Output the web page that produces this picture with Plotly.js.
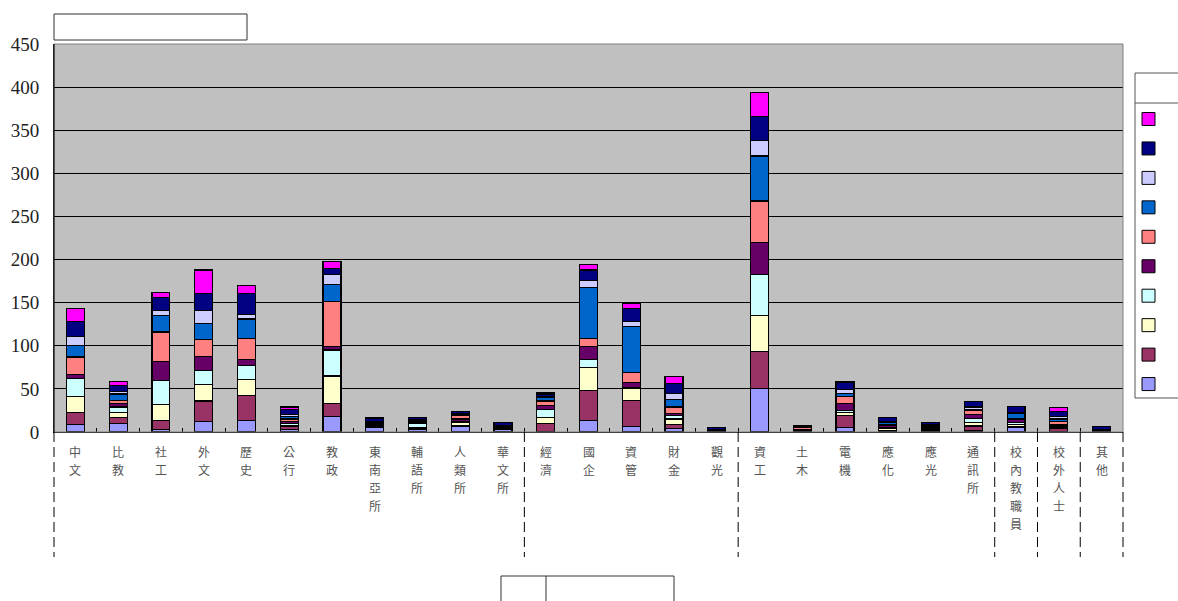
<!DOCTYPE html>
<html>
<head>
<meta charset="utf-8">
<script src="https://cdn.plot.ly/plotly-3.0.1.min.js"></script>
<style>html,body{margin:0;padding:0;background:#fff;}#chart{width:1178px;height:601px;}</style>
</head>
<body>
<div id="chart"></div>
<script>
// Categories (x-axis)
const categories = ['中文','比教','社工','外文','歷史','公行','教政','東南亞所','輔語所','人類所','華文所','經濟','國企','資管','財金','觀光','資工','土木','電機','應化','應光','通訊所','校內教職員','校外人士','其他'];

// Series values (bottom to top in stack)
const series1 = [9,10,3,12,13,3,18,5,3,6,3,0,13,6,4,1,50,1,5,1,2,2,5,1,1];
const series2 = [14,7,10,24,29,3,15,2,1,2,1,10,35,31,5,1,43,1,14,1,1,5,1,3,1];
const series3 = [18,6,19,19,19,1,32,0,1,3,1,7,27,13,6,0,42,0,4,2,1,4,3,1,0];
const series4 = [21,6,28,16,16,3,30,0,5,1,1,9,9,1,4,0,48,0,2,1,1,5,2,2,0];
const series5 = [5,4,22,17,7,2,4,2,1,3,1,5,15,6,2,1,37,1,8,3,1,4,4,2,1];
const series6 = [20,4,34,19,24,3,52,1,1,4,0,5,9,12,8,0,48,2,8,1,2,5,1,3,0];
const series7 = [13,7,19,19,23,3,20,1,1,1,1,4,60,53,9,0,52,0,4,2,0,1,5,3,0];
const series8 = [11,3,6,15,5,2,12,1,1,1,0,1,8,6,7,0,18,0,4,1,1,3,1,3,0];
const series9 = [17,7,15,20,25,6,7,4,3,3,3,3,12,15,11,2,28,2,9,5,2,6,8,6,3];
const series10 = [15,5,6,27,9,3,8,1,0,0,0,2,6,6,8,0,28,0,0,0,0,0,0,4,0];

const seriesNames = ['系列1','系列2','系列3','系列4','系列5','系列6','系列7','系列8','系列9','系列10'];
const seriesColors = ['#9999FF','#993366','#FFFFCC','#CCFFFF','#660066','#FF8080','#0066CC','#CCCCFF','#000080','#FF00FF'];
const allSeries = [series1,series2,series3,series4,series5,series6,series7,series8,series9,series10];

// Y ticks
const yTicks = [0,50,100,150,200,250,300,350,400,450];

// Group boundaries (index of last category in each group)
const groupEnds = [10,15,21,22,23,24];

const traces = allSeries.map((vals, i) => ({
  type: 'bar',
  x: categories,
  y: vals,
  name: seriesNames[i],
  marker: {color: seriesColors[i], line: {color: '#000', width: 1.2}},
  showlegend: false
}));

// Pixel -> paper helpers for decorations (plot area 54..1123 x, 44..432 y)
const PL = 54, PR = 1123, PT = 44, PB = 432;
const px = v => (v - PL) / (PR - PL);
const py = v => (PB - v) / (PB - PT);

// Vertical category labels: one character per line
const annotations = [];
categories.forEach(c => {
  Array.from(c).forEach((ch, k) => {
    annotations.push({
      xref: 'x', yref: 'paper', x: c, y: py(451 + 18 * k),
      text: ch, showarrow: false, xanchor: 'center', yanchor: 'middle',
      font: {family: '"Noto Sans CJK TC", sans-serif', size: 12, color: '#555'}
    });
  });
});

const shapes = [];
shapes.push({type:'rect', xref:'paper', yref:'paper', x0:0, x1:1, y0:0, y1:1, line:{color:'#808080', width:1}, layer:'above'});
shapes.push({type:'line', xref:'paper', yref:'paper', x0:0, x1:0, y0:0, y1:1, line:{color:'#000', width:1}, layer:'above'});
const N = categories.length;
const dividerX = [0].concat(groupEnds.map(e => (e + 1) / N));
dividerX.forEach(xv => {
  shapes.push({type:'line', xref:'paper', yref:'paper', x0:xv, x1:xv, y0:0, y1:py(557), line:{color:'#000', width:1, dash:'10px,5px'}});
});
shapes.push({type:'rect', xref:'paper', yref:'paper', x0:px(54), x1:px(247), y0:py(40), y1:py(14), line:{color:'#333', width:1}, fillcolor:'#fff'});
shapes.push({type:'rect', xref:'paper', yref:'paper', x0:px(1135), x1:px(1195), y0:py(398), y1:py(73), line:{color:'#555', width:1}, fillcolor:'#fff'});
shapes.push({type:'line', xref:'paper', yref:'paper', x0:px(1135), x1:px(1195), y0:py(103), y1:py(103), line:{color:'#555', width:1}});
for (let k = 0; k < 10; k++) {
  const idx = 9 - k;
  const cy = 119 + 29.45 * k;
  shapes.push({type:'rect', xref:'paper', yref:'paper', x0:px(1142), x1:px(1155), y0:py(cy + 6.5), y1:py(cy - 6.5), line:{color:'#000', width:1}, fillcolor:seriesColors[idx]});
}
shapes.push({type:'rect', xref:'paper', yref:'paper', x0:px(501), x1:px(674), y0:py(615), y1:py(576), line:{color:'#333', width:1}, fillcolor:'#fff'});
shapes.push({type:'line', xref:'paper', yref:'paper', x0:px(546), x1:px(546), y0:py(615), y1:py(576), line:{color:'#333', width:1}});

const layout = {
  width: 1178, height: 601,
  margin: {l: PL, r: 1178 - PR, t: PT, b: 601 - PB, pad: 0},
  paper_bgcolor: '#ffffff',
  plot_bgcolor: '#C0C0C0',
  barmode: 'stack',
  bargap: 0.58,
  showlegend: false,
  xaxis: {
    type: 'category',
    tickson: 'boundaries',
    ticks: 'inside',
    ticklen: 4,
    tickcolor: '#000',
    showticklabels: false,
    showgrid: false,
    showline: true,
    linecolor: '#000',
    linewidth: 1,
    fixedrange: true
  },
  yaxis: {
    range: [0, 450],
    tickmode: 'array',
    tickvals: yTicks,
    ticktext: yTicks.map(String),
    ticks: 'inside',
    ticklen: 4,
    tickcolor: '#000',
    showgrid: true,
    gridcolor: '#000',
    gridwidth: 1,
    zeroline: true,
    zerolinecolor: '#000',
    showline: true,
    linecolor: '#000',
    ticklabelstandoff: 10,
    tickfont: {family: '"Liberation Serif", "Times New Roman", serif', size: 19, color: '#222'},
    fixedrange: true
  },
  annotations: annotations,
  shapes: shapes
};

Plotly.newPlot('chart', traces, layout, {displayModeBar: false, staticPlot: true});
</script>
</body>
</html>
